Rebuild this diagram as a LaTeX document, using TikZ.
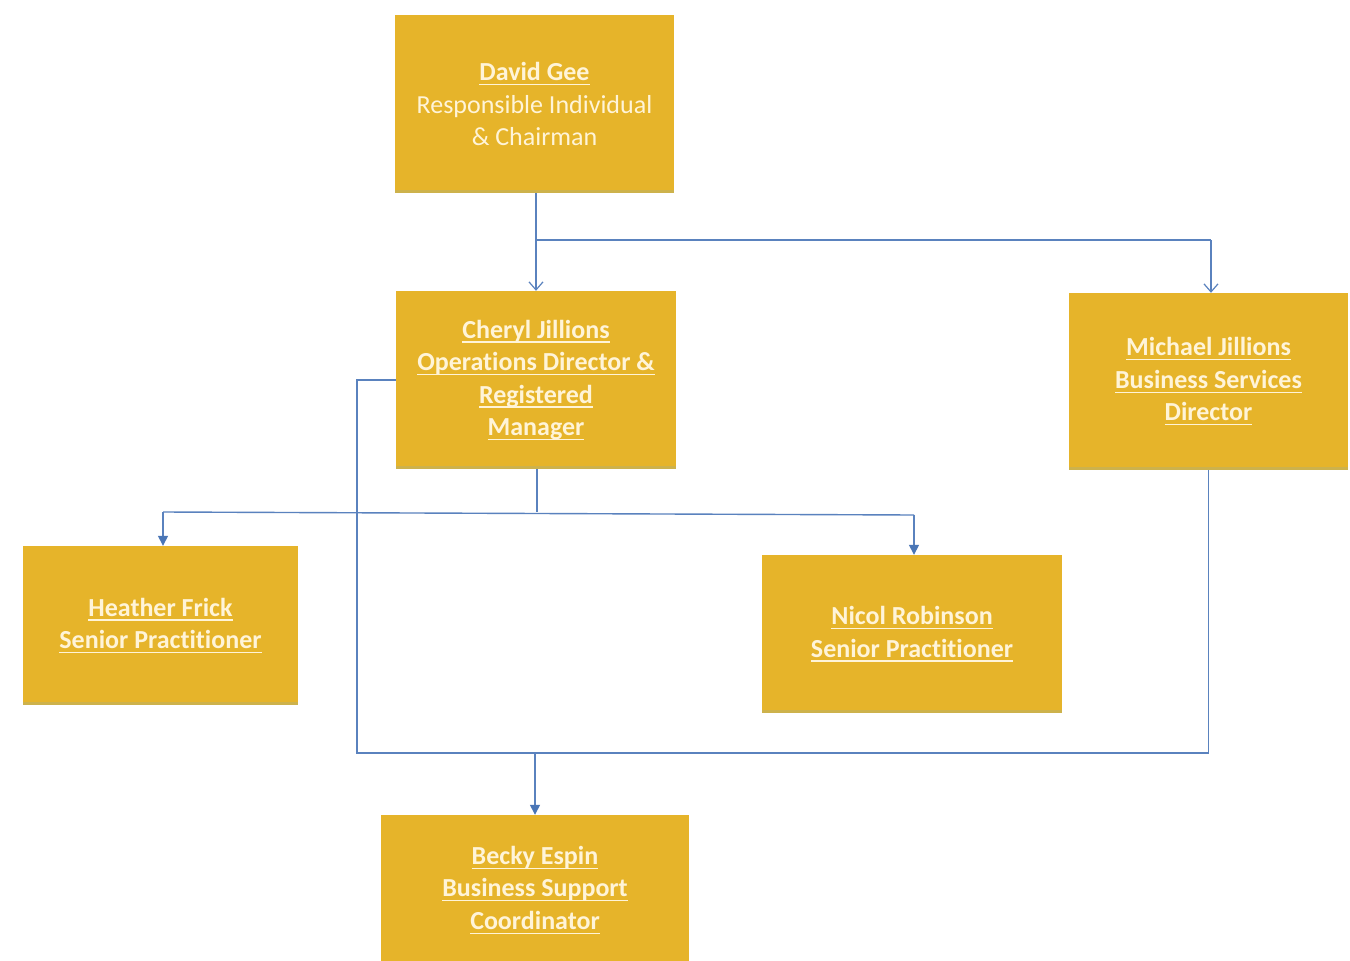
\documentclass[tikz,border=0pt]{standalone}
\usepackage{fontspec}
\setmainfont{Carlito}[Ligatures=NoCommon]
\usetikzlibrary{arrows.meta}
\definecolor{boxfill}{HTML}{E6B42A}
\definecolor{boxband}{HTML}{CDB24C}
\definecolor{txt}{HTML}{FFF4D8}
\definecolor{conn}{HTML}{5A82BE}
\definecolor{tip}{HTML}{4A76B6}
\newcommand{\ulx}[1]{\setbox0\hbox{#1}\rlap{\color{txt}\rule[-4.5pt]{\wd0}{1.3pt}}\box0}
\tikzset{
  orgbox/.style={fill=boxfill, draw=none, inner sep=0pt, align=center,
    text=txt, font=\fontsize{26}{32.5}\selectfont,
    path picture={\fill[boxband] (path picture bounding box.south west) rectangle ([yshift=3pt]path picture bounding box.south east);}},
  boldbox/.style={orgbox, font=\fontsize{26}{32.5}\selectfont\bfseries},
  conline/.style={draw=conn, line width=1.4pt},
  openarrow/.style={conline, -{Straight Barb[length=8pt,width=14pt,line width=1.2pt]}},
  fillarrow/.style={conline, -{Triangle[length=10pt,width=10pt,fill=tip,color=tip]}}
}
\begin{document}
\begin{tikzpicture}[x=1pt,y=-1pt]
\useasboundingbox (0,0) rectangle (1350,961);
\fill[white] (0,0) rectangle (1350,961);

\node[orgbox, minimum width=279pt, minimum height=178pt] (david) at (534.5,104)
  {\textbf{\ulx{David Gee}}\\Responsible Individual\\\& Chairman};
\node[boldbox, minimum width=280pt, minimum height=178pt] (cheryl) at (536,380)
  {\ulx{Cheryl Jillions}\\\ulx{Operations Director \&}\\\ulx{Registered}\\\ulx{Manager}};
\node[boldbox, minimum width=279pt, minimum height=177pt] (michael) at (1208.5,381.5)
  {\ulx{Michael Jillions}\\\ulx{Business Services}\\\ulx{Director}};
\node[boldbox, minimum width=275pt, minimum height=159pt] (heather) at (160.5,625.5)
  {\ulx{Heather Frick}\\\ulx{Senior Practitioner}};
\node[boldbox, minimum width=300pt, minimum height=158pt] (nicol) at (912,634)
  {\ulx{Nicol Robinson}\\\ulx{Senior Practitioner}};
\node[boldbox, minimum width=308pt, minimum height=150pt] (becky) at (535,890)
  {\ulx{Becky Espin}\\\ulx{Business Support}\\\ulx{Coordinator}};

% David -> Cheryl, Michael
\coordinate (j1) at (536,240);
\draw[conline] (david.south -| j1) -- (j1);
\draw[openarrow] (j1) -- (cheryl.north -| j1);
\coordinate (mtop) at (1211,240);
\draw[conline] (j1) -- (mtop);
\draw[openarrow] (mtop) -- (mtop |- michael.north);

% Cheryl -> Heather, Nicol
\coordinate (j2) at (537,512);
\draw[conline] (cheryl.south -| j2) -- (j2);
\coordinate (hl) at (163,512);
\coordinate (nr) at (914,515);
\draw[conline] (hl) -- (nr);
\draw[fillarrow] (hl) -- (hl |- heather.north);
\draw[fillarrow] (nr) -- (nr |- nicol.north);

% Cheryl and Michael -> Becky
\coordinate (c1) at (357,753);
\coordinate (j3) at (535,753);
\draw[conline] (cheryl.west) -| (c1) -| (michael.south);
\draw[fillarrow] (j3) -- (becky.north);
\end{tikzpicture}
\end{document}
